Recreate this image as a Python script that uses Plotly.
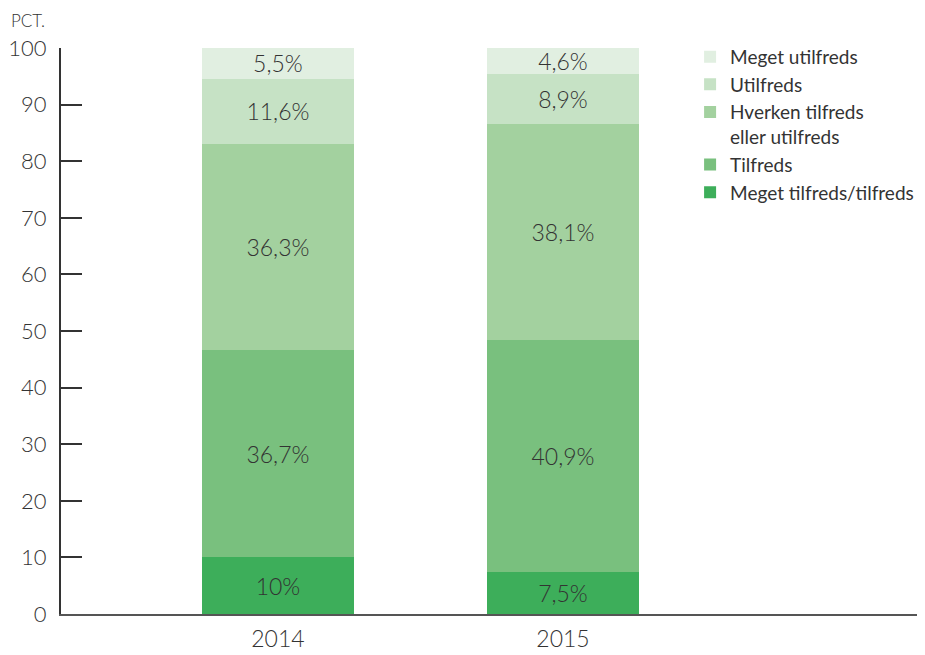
import plotly.graph_objects as go

years = ["2014", "2015"]
series_names = [
    "Meget tilfreds/tilfreds",
    "Tilfreds",
    "Hverken tilfreds<br>eller utilfreds",
    "Utilfreds",
    "Meget utilfreds",
]
meget_tilfreds = [10, 7.5]
tilfreds = [36.7, 40.9]
hverken = [36.3, 38.1]
utilfreds = [11.6, 8.9]
meget_utilfreds = [5.5, 4.6]
y_ticks = [0, 10, 20, 30, 40, 50, 60, 70, 80, 90, 100]

values = [meget_tilfreds, tilfreds, hverken, utilfreds, meget_utilfreds]
colors = ["#3dae5a", "#79c07e", "#a3d19f", "#c6e2c5", "#e1efe1"]

FONT = "Lato"
TXT = "#333333"

def fmt(v):
    return f"{v:g}".replace(".", ",") + "%"

fig = go.Figure()
for name, vals, col in zip(series_names, values, colors):
    fig.add_trace(go.Bar(
        x=years, y=vals, name=name,
        marker=dict(color=col, line=dict(width=0)),
        text=[fmt(v) for v in vals],
        textposition="inside", insidetextanchor="middle",
        constraintext="none",
        textfont=dict(family=FONT, size=23, color=TXT, weight=300),
        width=0.533,
        hoverinfo="skip",
    ))

fig.update_layout(
    barmode="stack",
    width=917, height=647,
    margin=dict(l=53, r=4, t=40, b=41, autoexpand=False),
    plot_bgcolor="white", paper_bgcolor="white",
    font=dict(family=FONT, color=TXT, weight=300),
    showlegend=True,
    legend=dict(
        traceorder="reversed",
        x=0.7315, xanchor="left", y=1.018, yanchor="top",
        font=dict(family=FONT, size=19, color=TXT, weight=400),
        valign="top",
        tracegroupgap=0,
        bgcolor="rgba(0,0,0,0)",
    ),
    xaxis=dict(
        type="category",
        range=[-0.761, 2.256],
        showline=True, linecolor="#555555", linewidth=2,
        ticks="", showgrid=False,
        tickfont=dict(family=FONT, size=23, color=TXT, weight=300),
        ticklabelstandoff=3,
        fixedrange=True, automargin=False,
    ),
    yaxis=dict(
        range=[0, 100],
        tickvals=y_ticks,
        showline=True, linecolor="#333333", linewidth=2,
        ticks="inside", ticklen=21, tickwidth=2, tickcolor="#333333",
        showgrid=False, zeroline=False, automargin=False,
        tickfont=dict(family=FONT, size=22, color=TXT, weight=300),
        ticklabelstandoff=8,
    ),
    annotations=[dict(
        text="PCT.", xref="paper", yref="paper",
        x=-0.0605, y=1.0, xanchor="left", yanchor="middle", yshift=28,
        showarrow=False,
        font=dict(family=FONT, size=17, color=TXT, weight=300),
    )],
)

fig.write_html("out.html")
